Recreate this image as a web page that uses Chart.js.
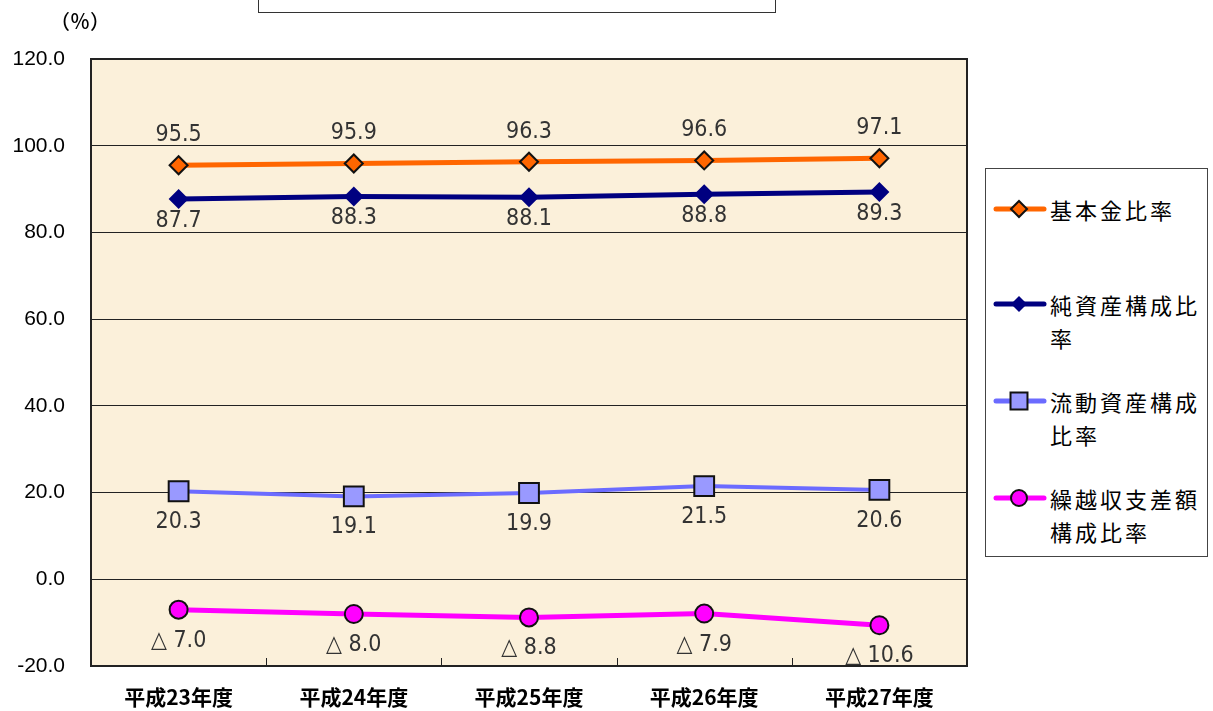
<!DOCTYPE html>
<html lang="ja">
<head>
<meta charset="utf-8">
<script src="https://cdn.jsdelivr.net/npm/chart.js@4"></script>
<style>
  html, body { margin: 0; padding: 0; background: #fff; }
  #wrap { position: relative; width: 1213px; height: 711px; overflow: hidden; }
  #titleBox { position: absolute; left: 258px; top: -30px; width: 516px; height: 41px; border: 1px solid #333; background: #fff; }
  #unit { position: absolute; left: 50px; top: 6px; font: 500 20px 'Noto Sans CJK JP', sans-serif; color: #000; }
  #legend { position: absolute; left: 985px; top: 168px; width: 221px; height: 387px; border: 1px solid #444; background: #fff;
            font: 22px 'Noto Sans CJK JP', sans-serif; color: #000; letter-spacing: 3px; }
  .item { position: absolute; left: 6px; }
  .item canvas { position: absolute; left: 0; top: 0; }
  .item .txt { position: absolute; left: 58px; top: -16px; line-height: 33px; white-space: nowrap; }
</style>
</head>
<body>
<div id="wrap">
  <canvas id="kousei" width="1213" height="711"></canvas>
  <div id="titleBox"></div>
  <div id="unit">（％）</div>
  <div id="legend"></div>
</div>
<script>
// 構成比率の推移
const nendo = ['平成23年度', '平成24年度', '平成25年度', '平成26年度', '平成27年度'];
const kihonkin = [95.5, 95.9, 96.3, 96.6, 97.1];
const junShisan = [87.7, 88.3, 88.1, 88.8, 89.3];
const ryudoShisan = [20.3, 19.1, 19.9, 21.5, 20.6];
const kurikoshi = [-7.0, -8.0, -8.8, -7.9, -10.6];
const yTicks = [-20, 0, 20, 40, 60, 80, 100, 120];

const series = [
    { label: '基本金比率', lines: ['基本金比率'], data: kihonkin, color: '#FF6600', fill: '#FF6600', style: 'rectRot', r: 9, bw: 2, width: 5, off: -30 },
    { label: '純資産構成比率', lines: ['純資産構成比', '率'], data: junShisan, color: '#000080', fill: '#000080', style: 'rectRot', r: 10, bw: 0, width: 5, off: 22 },
    { label: '流動資産構成比率', lines: ['流動資産構成', '比率'], data: ryudoShisan, color: '#6B6BFF', fill: '#9999FF', style: 'rect', r: 14, bw: 2, width: 4, off: 31 },
    { label: '繰越収支差額構成比率', lines: ['繰越収支差額', '構成比率'], data: kurikoshi, color: '#FF00FF', fill: '#FF00FF', style: 'circle', r: 9, bw: 2, width: 5, off: 31 }
];
const legendY = [40, 135, 232, 329];

function fmt(v) {
    return v < 0 ? '△ ' + Math.abs(v).toFixed(1) : v.toFixed(1);
}

const plotDeco = {
    id: 'plotDeco',
    beforeDraw(chart) {
        const a = chart.chartArea;
        const ctx = chart.ctx;
        ctx.save();
        ctx.fillStyle = '#FBF0DA';
        ctx.fillRect(a.left, a.top, a.right - a.left, a.bottom - a.top);
        ctx.restore();
    },
    afterDatasetsDraw(chart) {
        const ctx = chart.ctx;
        const a = chart.chartArea;
        const xs = chart.scales.x;
        ctx.save();
        // category tick marks
        ctx.strokeStyle = '#222';
        ctx.lineWidth = 1;
        for (let i = 0; i < nendo.length - 1; i++) {
            const x = Math.round((xs.getPixelForTick(i) + xs.getPixelForTick(i + 1)) / 2) + 0.5;
            ctx.beginPath();
            ctx.moveTo(x, a.bottom);
            ctx.lineTo(x, a.bottom - 8);
            ctx.stroke();
        }
        // border
        ctx.lineWidth = 2;
        ctx.strokeStyle = '#222';
        ctx.strokeRect(a.left, a.top, a.right - a.left, a.bottom - a.top);
        // data labels
        ctx.font = "23px 'Liberation Sans Narrow', 'DejaVu Sans Condensed', 'Liberation Sans', sans-serif";
        ctx.fillStyle = '#333';
        ctx.textAlign = 'center';
        ctx.textBaseline = 'middle';
        chart.data.datasets.forEach((ds, i) => {
            const meta = chart.getDatasetMeta(i);
            meta.data.forEach((pt, j) => {
                ctx.fillText(fmt(ds.data[j]), pt.x, pt.y + series[i].off);
            });
        });
        ctx.restore();
    }
};

const kouseiChart = new Chart(document.getElementById('kousei').getContext('2d'), {
    type: 'line',
    data: {
        labels: nendo,
        datasets: series.map(s => ({
            label: s.label,
            data: s.data,
            borderColor: s.color,
            backgroundColor: s.fill,
            borderWidth: s.width,
            pointStyle: s.style,
            pointRadius: s.r,
            pointHoverRadius: s.r,
            pointBackgroundColor: s.fill,
            pointBorderColor: '#111',
            pointBorderWidth: s.bw,
            tension: 0,
            fill: false
        }))
    },
    options: {
        responsive: false,
        animation: false,
        layout: { padding: { top: 59, right: 246, bottom: 0, left: 0 } },
        plugins: {
            legend: { display: false },
            tooltip: { enabled: false }
        },
        scales: {
            x: {
                offset: true,
                grid: { display: false },
                border: { display: false },
                ticks: {
                    color: '#000',
                    padding: 10,
                    maxRotation: 0,
                    font: { family: "'Noto Sans CJK JP', sans-serif", size: 21, weight: 'bold' }
                },
                afterFit(scale) { scale.height = 45; }
            },
            y: {
                min: -20,
                max: 120,
                afterBuildTicks(scale) { scale.ticks = yTicks.map(v => ({ value: v })); },
                grid: { color: '#222', lineWidth: 1, drawTicks: false },
                border: { display: false },
                ticks: {
                    color: '#000',
                    padding: 26,
                    font: { family: "'Liberation Sans', Arial, sans-serif", size: 21 },
                    callback: v => v.toFixed(1)
                },
                afterFit(scale) { scale.width = 91; }
            }
        }
    },
    plugins: [plotDeco]
});

// 凡例
const legendBox = document.getElementById('legend');
series.forEach((s, i) => {
    const item = document.createElement('div');
    item.className = 'item';
    item.style.top = legendY[i] + 'px';
    const c = document.createElement('canvas');
    c.width = 56; c.height = 30;
    c.style.top = '-15px';
    const g = c.getContext('2d');
    g.strokeStyle = s.color;
    g.lineWidth = 5;
    g.lineCap = 'round';
    g.beginPath(); g.moveTo(4, 15); g.lineTo(52, 15); g.stroke();
    g.fillStyle = s.fill;
    g.strokeStyle = '#111';
    g.lineWidth = s.bw;
    Chart.helpers.drawPoint(g, { pointStyle: s.style, radius: s.style === 'rect' ? 12 : 8, borderWidth: s.bw }, 27, 15);
    const t = document.createElement('div');
    t.className = 'txt';
    t.innerHTML = s.lines.join('<br>');
    item.appendChild(c);
    item.appendChild(t);
    legendBox.appendChild(item);
});
</script>
</body>
</html>
